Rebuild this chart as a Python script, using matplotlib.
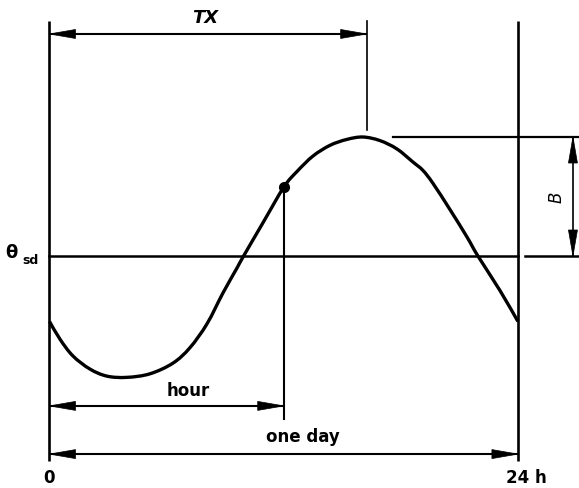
import matplotlib
matplotlib.use("Agg")
import matplotlib.pyplot as plt
import numpy as np
from matplotlib.path import Path
from matplotlib.patches import PathPatch, Polygon
from matplotlib.transforms import IdentityTransform

# Daily temperature course, hours since midnight vs. deviation from theta_sd
# (in units of the amplitude B)
hours = [0.0, 0.54, 1.20, 2.07, 2.95, 3.97, 5.15, 6.33, 7.20, 8.07, 8.89,
         9.61, 9.91, 10.94, 12.01, 12.68, 13.50, 14.37, 15.24, 16.06, 16.93,
         17.80, 18.62, 19.13, 19.65, 20.52, 21.39, 21.95, 23.08, 24.0]
theta = [-0.55, -0.70, -0.84, -0.95, -1.01, -1.02, -0.99, -0.90, -0.77, -0.57,
         -0.31, -0.10, -0.01, 0.28, 0.58, 0.71, 0.84, 0.93, 0.98, 1.00, 0.97,
         0.90, 0.79, 0.72, 0.61, 0.39, 0.16, 0.0, -0.29, -0.55]

day_length = 24.0        # one day, h
t_max = 16.25            # TX, time of daily maximum, h
t_obs = 12.0             # observation hour
theta_obs = 0.58         # value at the observation hour
amplitude = 1.0          # B

tick_labels = ["0", "24 h"]

FONT = "DejaVu Sans"
K = "black"

fig = plt.figure(figsize=(5.79, 4.89), dpi=100)
ax = fig.add_axes([0, 0, 1, 1])
ax.set_xlim(-2.536, 27.13)
ax.set_ylim(-1.95, 2.16)
ax.axis("off")


def smooth_path(xs, ys):
    """Catmull-Rom curve through the given points, as cubic Bezier segments."""
    p = np.column_stack([xs, ys]).astype(float)
    ext = np.vstack([p[0], p, p[-1]])
    verts = [p[0]]
    codes = [Path.MOVETO]
    for i in range(1, len(ext) - 2):
        p0, p1, p2, p3 = ext[i - 1], ext[i], ext[i + 1], ext[i + 2]
        verts += [p1 + (p2 - p0) / 6.0, p2 - (p3 - p1) / 6.0, p2]
        codes += [Path.CURVE4] * 3
    return Path(verts, codes)


def arrow_head(tip, direction, length=26, half_width=4.5):
    """Filled head whose point sits exactly on `tip` (sizes in pixels)."""
    tip_px = ax.transData.transform(tip)
    d = np.asarray(direction, float)
    d /= np.hypot(*d)
    n = np.array([-d[1], d[0]])
    base = tip_px - d * length
    poly = [tip_px, base + n * half_width, base - n * half_width]
    ax.add_patch(Polygon(poly, closed=True, facecolor=K, edgecolor=K, lw=0.5,
                         transform=IdentityTransform(), zorder=4))


def dim_arrow(p0, p1, lw=1.5):
    ax.plot([p0[0], p1[0]], [p0[1], p1[1]], color=K, lw=lw,
            solid_capstyle="butt")
    a = ax.transData.transform(p0)
    b = ax.transData.transform(p1)
    arrow_head(p1, b - a)
    arrow_head(p0, a - b)


# frame lines at 0 h and 24 h
ax.plot([0, 0], [-1.72, 1.975], color=K, lw=1.9, solid_capstyle="butt")
ax.plot([day_length, day_length], [-1.72, 1.975], color=K, lw=1.9,
        solid_capstyle="butt")

# theta_sd level
ax.plot([0, day_length], [0, 0], color=K, lw=1.8)
ax.plot([24.36, 27.13], [0, 0], color=K, lw=1.8)
# maximum level
ax.plot([17.6, 27.13], [amplitude, amplitude], color=K, lw=1.6)

# temperature curve
ax.add_patch(PathPatch(smooth_path(hours, theta), facecolor="none",
                       edgecolor=K, lw=2.4, capstyle="butt", zorder=3))

# observation point and its hour marker
ax.plot([t_obs], [theta_obs], "o", color=K, ms=7, zorder=4)
ax.plot([t_obs, t_obs], [theta_obs, -1.37], color=K, lw=1.5)

# TX marker
ax.plot([t_max, t_max], [1.06, 1.975], color=K, lw=1.2)

dim_arrow((0, 1.866), (t_max, 1.866))
dim_arrow((0, -1.26), (t_obs, -1.26))
dim_arrow((0, -1.665), (day_length, -1.665))
dim_arrow((26.82, 0), (26.82, amplitude), lw=1.2)

# labels
ax.text(7.99, 2.01, "TX", fontsize=13, fontweight="bold", style="italic",
        family=FONT, ha="center", va="center")
ax.text(7.1, -1.13, "hour", fontsize=12, fontweight="bold", family=FONT,
        ha="center", va="center")
ax.text(13.0, -1.51, "one day", fontsize=12, fontweight="bold", family=FONT,
        ha="center", va="center")
ax.text(26.0, 0.5, "B", fontsize=12, style="italic", family=FONT,
        rotation=90, ha="center", va="center")
ax.text(0.0, -1.86, tick_labels[0], fontsize=12, fontweight="bold",
        family=FONT, ha="center", va="center")
ax.text(24.45, -1.86, tick_labels[1], fontsize=12, fontweight="bold",
        family=FONT, ha="center", va="center")
ax.text(-1.95, 0.03, "θ", fontsize=13, fontweight="bold", family=FONT,
        ha="center", va="center")
ax.text(-0.98, -0.03, "sd", fontsize=9, fontweight="bold", family=FONT,
        ha="center", va="center")

fig.savefig("out.png", dpi=100, facecolor="white")
